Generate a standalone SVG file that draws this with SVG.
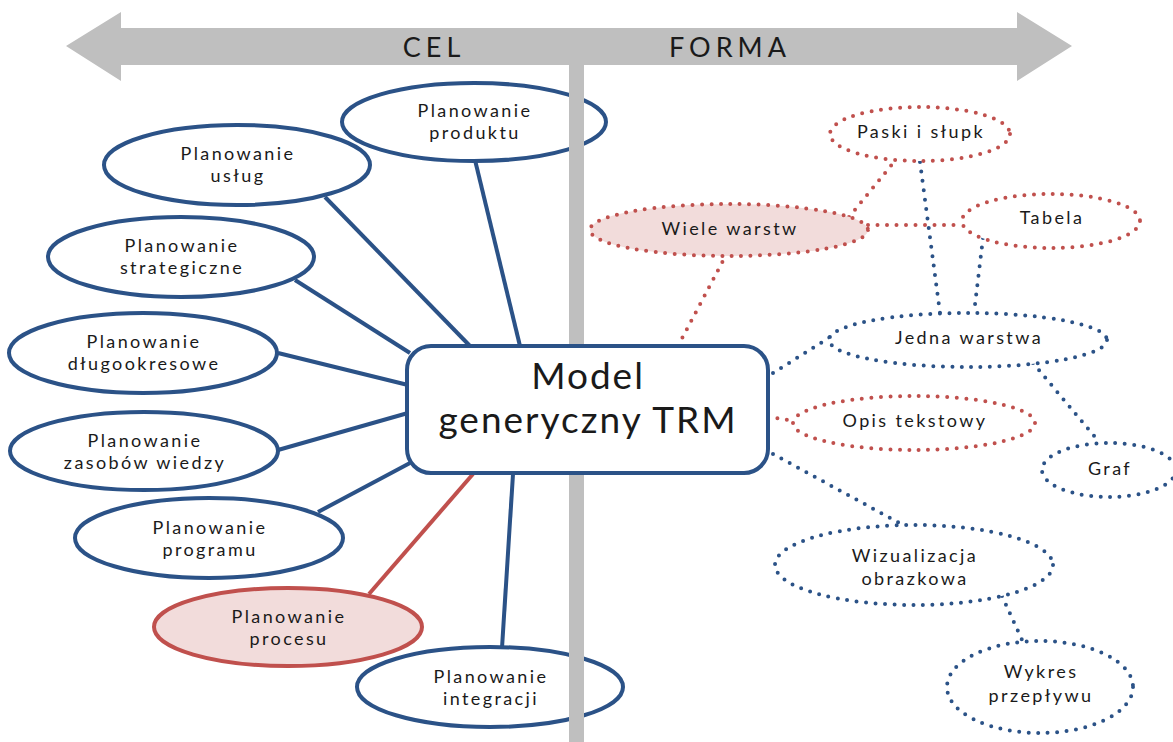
<svg xmlns="http://www.w3.org/2000/svg" width="1173" height="742" viewBox="0 0 1173 742">
<style>
.n{fill:#fff;stroke:#2b5287;stroke-width:4}
.np{fill:#f2dcdb;stroke:#c0504d;stroke-width:4}
.db{fill:#fff;stroke:#2b5287;stroke-width:4;stroke-dasharray:0 9.5;stroke-linecap:round}
.dr{fill:#fff;stroke:#c0504d;stroke-width:4;stroke-dasharray:0 9.5;stroke-linecap:round}
.drp{fill:#f2dcdb;stroke:#c0504d;stroke-width:4;stroke-dasharray:0 9.5;stroke-linecap:round}
.lb{stroke:#2b5287;stroke-width:4;fill:none}
.lr{stroke:#c0504d;stroke-width:4;fill:none}
.ldb{stroke:#2b5287;stroke-width:4;fill:none;stroke-dasharray:0 9.5;stroke-linecap:round}
.ldr{stroke:#c0504d;stroke-width:4;fill:none;stroke-dasharray:0 9.5;stroke-linecap:round}
text{font-family:Lato,"Noto Sans",sans-serif;fill:#1a1a1a;text-anchor:middle}
.t{font-size:18px;letter-spacing:2.4px}
.big{font-size:37px;letter-spacing:2px}
.ax{font-size:27px;letter-spacing:5px}
</style>
<g id="axis">
<polygon points="66,46 121,12 121,28 1017,28 1017,12 1072,46 1017,81 1017,65 121,65 121,81" fill="#bfbfbf"/>
<text class="ax" x="434" y="57">CEL</text>
<text class="ax" x="730" y="57">FORMA</text>
</g>
<g id="connectors">
<line class="lb" x1="475" y1="160" x2="520" y2="346"/>
<line class="lb" x1="325" y1="197" x2="470" y2="346"/>
<line class="lb" x1="295" y1="280" x2="410" y2="353"/>
<line class="lb" x1="278" y1="353" x2="408" y2="385"/>
<line class="lb" x1="278" y1="450" x2="408" y2="413"/>
<line class="lb" x1="318" y1="512" x2="410" y2="463"/>
<line class="lr" x1="369" y1="594" x2="473" y2="474"/>
<line class="lb" x1="502" y1="648" x2="513" y2="474"/>
<line class="ldr" x1="678" y1="346" x2="725" y2="257"/>
<line class="ldr" x1="849" y1="217" x2="894" y2="162"/>
<line class="ldr" x1="868" y1="225" x2="962" y2="225"/>
<line class="ldb" x1="920" y1="162" x2="940" y2="313"/>
<line class="ldb" x1="983" y1="238" x2="974" y2="313"/>
<line class="ldb" x1="773" y1="373" x2="835" y2="334"/>
<line class="ldr" x1="768" y1="417" x2="796" y2="421"/>
<line class="ldb" x1="773" y1="454" x2="903" y2="525"/>
<line class="ldb" x1="1033" y1="363" x2="1100" y2="443"/>
<line class="ldb" x1="1002" y1="596" x2="1023" y2="642"/>
</g>
<g id="n-produktu"><ellipse class="n" cx="474" cy="122" rx="132" ry="39"/><text class="t" x="475" y="117">Planowanie</text><text class="t" x="475" y="139">produktu</text></g>
<g id="n-uslug"><ellipse class="n" cx="237" cy="165" rx="133" ry="40"/><text class="t" x="238" y="160">Planowanie</text><text class="t" x="238" y="182">usług</text></g>
<g id="n-strategiczne"><ellipse class="n" cx="181" cy="257" rx="133" ry="40"/><text class="t" x="182" y="252">Planowanie</text><text class="t" x="182" y="274">strategiczne</text></g>
<g id="n-dlugo"><ellipse class="n" cx="143" cy="353" rx="134" ry="40"/><text class="t" x="144" y="348">Planowanie</text><text class="t" x="144" y="370">długookresowe</text></g>
<g id="n-zasobow"><ellipse class="n" cx="144" cy="451" rx="134" ry="39"/><text class="t" x="145" y="447">Planowanie</text><text class="t" x="145" y="469">zasobów wiedzy</text></g>
<g id="n-programu"><ellipse class="n" cx="209" cy="538" rx="134" ry="40"/><text class="t" x="210" y="534">Planowanie</text><text class="t" x="210" y="556">programu</text></g>
<g id="n-procesu"><ellipse class="np" cx="288" cy="627" rx="134" ry="39"/><text class="t" x="289" y="623">Planowanie</text><text class="t" x="289" y="645">procesu</text></g>
<g id="n-integracji"><ellipse class="n" cx="490" cy="687" rx="133" ry="40"/><text class="t" x="491" y="683">Planowanie</text><text class="t" x="491" y="705">integracji</text></g>
<rect id="divider" x="569" y="65" width="15" height="677" fill="#bfbfbf"/>
<g id="n-model"><rect x="407" y="346" width="361" height="127" rx="24" fill="#fff" stroke="#2b5287" stroke-width="4"/><text class="big" x="588" y="389">Model</text><text class="big" x="588" y="433">generyczny TRM</text></g>
<g id="n-wiele"><ellipse class="drp" cx="729" cy="230" rx="139" ry="26"/><text class="t" x="730" y="235">Wiele warstw</text></g>
<g id="n-paski"><ellipse class="dr" cx="920" cy="134" rx="90" ry="27"/><text class="t" x="921" y="138">Paski i słupk</text></g>
<g id="n-tabela"><ellipse class="dr" cx="1051" cy="221" rx="89" ry="27"/><text class="t" x="1052" y="224">Tabela</text></g>
<g id="n-jedna"><ellipse class="db" cx="968" cy="340" rx="139" ry="27"/><text class="t" x="969" y="344">Jedna warstwa</text></g>
<g id="n-opis"><ellipse class="dr" cx="914" cy="423" rx="121" ry="27"/><text class="t" x="915" y="427">Opis tekstowy</text></g>
<g id="n-graf"><ellipse class="db" cx="1109" cy="470" rx="67" ry="27"/><text class="t" x="1110" y="475">Graf</text></g>
<g id="n-wizualizacja"><ellipse class="db" cx="914" cy="565" rx="139" ry="40"/><text class="t" x="915" y="562">Wizualizacja</text><text class="t" x="915" y="585">obrazkowa</text></g>
<g id="n-wykres"><ellipse class="db" cx="1040" cy="687" rx="93" ry="46"/><text class="t" x="1041" y="678">Wykres</text><text class="t" x="1041" y="702">przepływu</text></g>
</svg>
